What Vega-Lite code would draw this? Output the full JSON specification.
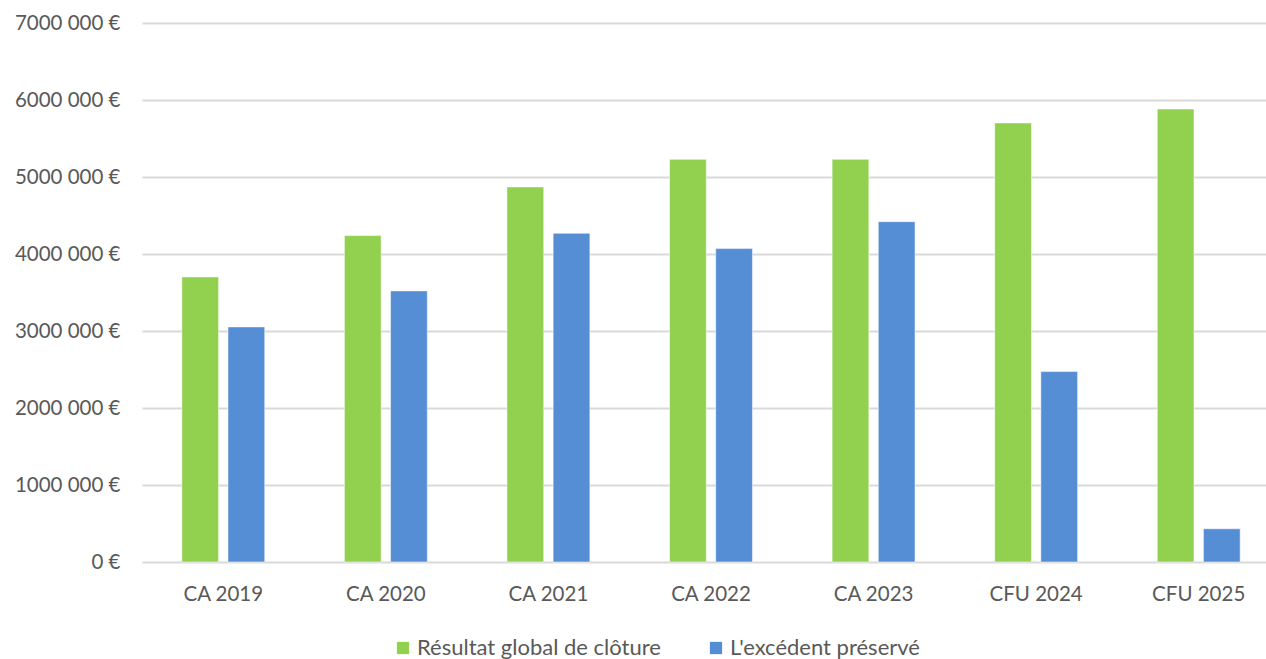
{
  "$schema": "https://vega.github.io/schema/vega-lite/v6.json",
  "autosize": {"type": "none"},
  "width": 1124,
  "height": 539,
  "padding": {"left": 142, "top": 23, "right": 0, "bottom": 97},
  "background": "white",
  "config": {
    "font": "Lato",
    "view": {"stroke": null},
    "axis": {"labelFont": "Lato", "labelColor": "#595959", "labelFontSize": 20.5}
  },
  "data": {
    "values": [
      {"periode": "CA 2019", "serie": "Résultat global de clôture", "montant": 3702000},
      {"periode": "CA 2019", "serie": "L'excédent préservé", "montant": 3053000},
      {"periode": "CA 2020", "serie": "Résultat global de clôture", "montant": 4239000},
      {"periode": "CA 2020", "serie": "L'excédent préservé", "montant": 3521000},
      {"periode": "CA 2021", "serie": "Résultat global de clôture", "montant": 4871000},
      {"periode": "CA 2021", "serie": "L'excédent préservé", "montant": 4269000},
      {"periode": "CA 2022", "serie": "Résultat global de clôture", "montant": 5229000},
      {"periode": "CA 2022", "serie": "L'excédent préservé", "montant": 4070000},
      {"periode": "CA 2023", "serie": "Résultat global de clôture", "montant": 5229000},
      {"periode": "CA 2023", "serie": "L'excédent préservé", "montant": 4420000},
      {"periode": "CFU 2024", "serie": "Résultat global de clôture", "montant": 5702000},
      {"periode": "CFU 2024", "serie": "L'excédent préservé", "montant": 2473000},
      {"periode": "CFU 2025", "serie": "Résultat global de clôture", "montant": 5883000},
      {"periode": "CFU 2025", "serie": "L'excédent préservé", "montant": 431000}
    ]
  },
  "mark": {"type": "bar", "stroke": "#ffffff", "strokeOpacity": 0.5, "strokeWidth": 1},
  "encoding": {
    "x": {
      "field": "periode",
      "type": "nominal",
      "sort": null,
      "scale": {"range": [0, 1138], "paddingInner": 0, "paddingOuter": 0},
      "axis": {"title": null, "labelAngle": 0, "domain": false, "ticks": false, "grid": false, "labelPadding": 22}
    },
    "xOffset": {
      "field": "serie",
      "type": "nominal",
      "scale": {"domain": ["Résultat global de clôture", "L'excédent préservé"], "paddingInner": 0.204, "paddingOuter": 0.863}
    },
    "y": {
      "field": "montant",
      "type": "quantitative",
      "scale": {"domain": [0, 7000000], "nice": false},
      "axis": {
        "title": null,
        "domain": false,
        "ticks": false,
        "values": [0, 1000000, 2000000, 3000000, 4000000, 5000000, 6000000, 7000000],
        "labelExpr": "datum.value == 0 ? '0 €' : format(datum.value / 1000, 'd') + ' 000 €'",
        "labelPadding": 22,
        "gridColor": "#D9D9D9",
        "gridWidth": 2
      }
    },
    "color": {
      "field": "serie",
      "type": "nominal",
      "scale": {"domain": ["Résultat global de clôture", "L'excédent préservé"], "range": ["#92D050", "#558ED5"]},
      "legend": {
        "title": null,
        "orient": "none",
        "direction": "horizontal",
        "legendX": 250,
        "legendY": 614,
        "symbolType": "square",
        "symbolSize": 150,
        "symbolStrokeWidth": 0,
        "labelFont": "Lato",
        "labelFontSize": 22,
        "labelColor": "#595959",
        "labelOffset": 3,
        "labelLimit": 0,
        "columnPadding": 44
      }
    }
  }
}
